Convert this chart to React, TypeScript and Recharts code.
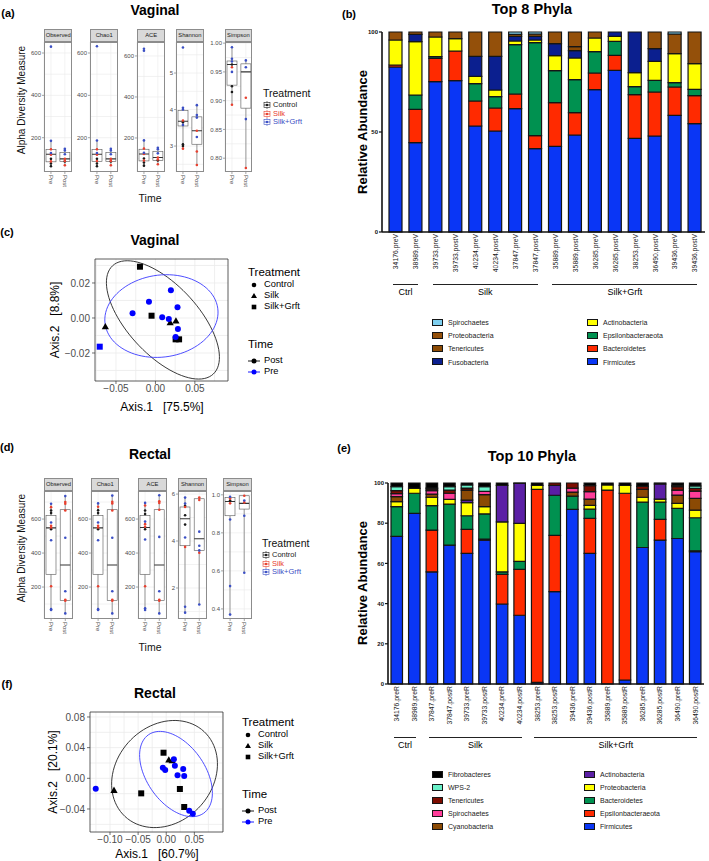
import React from "react";
import {
  BarChart,
  Bar,
  XAxis,
  YAxis,
  CartesianGrid,
  ComposedChart,
  Scatter,
  ScatterChart,
  ReferenceArea,
} from "recharts";

const FONT = "'Liberation Sans', Arial, Helvetica, sans-serif";
const GREY_TXT = "#4d4d4d";
const C_CTRL = "#1a1a1a";
const C_SILK = "#e8402f";
const C_GRFT = "#3b4fc4";

// ---------- (b) vaginal, top 8 phyla ----------
const vagSamples = [
  "34176.preV", "38989.preV", "39733.preV", "39733.postV", "40234.preV", "40234.postV",
  "37847.preV", "37847.postV", "35889.preV", "35889.postV", "36285.preV", "36285.postV",
  "38253.preV", "36490.postV", "39436.preV", "39436.postV",
];
const vagFirmicutes = [82.5, 44.7, 75.2, 75.7, 53, 50.5, 61.7, 41.7, 42.8, 48.5, 71.2, 80.8, 46.8, 48, 58.3, 54.2];
const vagBacteroidetes = [1, 16.6, 11.6, 14.8, 12.5, 11.5, 7.3, 6.5, 21.9, 11.2, 8.3, 7.5, 21.9, 22, 14.2, 14];
const vagEpsilon = [0, 7.2, 0.9, 0, 8.7, 5.7, 24.7, 46.5, 16, 16.5, 10.7, 7, 4, 5.8, 2.2, 3.1];
const vagActino = [12.5, 26.7, 9.8, 6.2, 3.6, 3.3, 1.8, 1.3, 7.5, 10.8, 6.8, 2.5, 7, 9.5, 14.5, 12.9];
const vagFuso = [0, 3.6, 0, 0, 10, 16.8, 2.3, 1.8, 6, 3.7, 0, 2.2, 20.3, 6.4, 0, 0];
const vagTenericutes = [0, 0, 0, 0, 0, 0, 0, 0, 0, 2, 0, 0, 0, 0, 0, 0];
const vagProteo = [4, 1.2, 2.5, 3.3, 12.2, 12.2, 1, 1.2, 5.8, 7.3, 3, 0, 0, 8.3, 9.8, 15.8];
const vagSpiro = [0, 0, 0, 0, 0, 0, 1.2, 1, 0, 0, 0, 0, 0, 0, 1, 0];

const vagPhyla = [
  { name: "Firmicutes", color: "#0a36f5", values: vagFirmicutes },
  { name: "Bacteroidetes", color: "#ff2a00", values: vagBacteroidetes },
  { name: "Epsilonbacteraeota", color: "#009150", values: vagEpsilon },
  { name: "Actinobacteria", color: "#ffff00", values: vagActino },
  { name: "Fusobacteria", color: "#0b1f8f", values: vagFuso },
  { name: "Tenericutes", color: "#8b4a04", values: vagTenericutes },
  { name: "Proteobacteria", color: "#94500a", values: vagProteo },
  { name: "Spirochaetes", color: "#7ecfef", values: vagSpiro },
];
const vagLegendLeft = ["Spirochaetes", "Proteobacteria", "Tenericutes", "Fusobacteria"];
const vagLegendRight = ["Actinobacteria", "Epsilonbacteraeota", "Bacteroidetes", "Firmicutes"];
const vagGroups = [
  { label: "Ctrl", from: 0, to: 1 },
  { label: "Silk", from: 2, to: 7 },
  { label: "Silk+Grft", from: 8, to: 15 },
];

// ---------- (e) rectal, top 10 phyla ----------
const recSamples = [
  "34176.preR", "38989.preR", "37847.preR", "37847.postR", "39733.preR", "39733.postR",
  "40234.preR", "40234.postR", "38253.preR", "38253.postR", "39436.preR", "39436.postR",
  "35889.preR", "35889.postR", "36285.preR", "36285.postR", "36490.preR", "36490.postR",
];
const recFirmicutes = [73.4, 84.9, 55.8, 69.1, 65, 71.6, 39.8, 34.2, 0.8, 46, 86.9, 65, 0, 2, 67.9, 71.6, 72.4, 65.8];
const recEpsilon = [0, 0, 20.8, 0, 11.9, 0.5, 14.7, 22.8, 96, 27.9, 0, 17.4, 96.5, 92.9, 0, 10.3, 0, 0.5];
const recBacteroidetes = [14.8, 10, 12.1, 20.4, 6.8, 12.5, 1.3, 4, 0, 20, 6.6, 4.6, 0, 0, 22.6, 8.6, 15, 16.4];
const recProteo = [2.5, 2.4, 4.2, 2.4, 6.5, 3.6, 24.9, 18.9, 2, 0, 0, 1.9, 2.5, 3.9, 2.4, 1.5, 2.5, 3.8];
const recActino = [0, 0, 0, 0, 1.3, 0, 18.1, 19.9, 0, 4.9, 0, 0, 0, 0, 0, 7.5, 0, 0];
const recCyano = [2.5, 0, 1.6, 0, 5, 6, 0, 0, 0, 0, 2, 3.1, 0, 0, 3.9, 0, 4.1, 5.9];
const recSpiro = [1.5, 0, 1.7, 3, 0, 1.6, 0, 0, 0, 0, 2, 3.7, 0, 0, 0, 0, 2.5, 3.6];
const recTenericutes = [1.5, 0, 0.8, 1.6, 1, 0, 0, 0, 0, 1.2, 2.5, 3, 0, 0, 1.5, 0, 1.7, 1.3];
const recWps2 = [2, 0, 0.5, 1.7, 1.5, 2.4, 0, 0, 0, 0, 0, 0, 0, 0, 0, 0, 0.6, 1.2];
const recFibro = [1.8, 2.7, 2.5, 1.8, 1, 1.8, 1.2, 0.2, 1.2, 0, 0, 1.3, 1, 1.2, 1.7, 0.5, 1.2, 1.5];

const recPhyla = [
  { name: "Firmicutes", color: "#0a36f5", values: recFirmicutes },
  { name: "Epsilonbacteraeota", color: "#ff2a00", values: recEpsilon },
  { name: "Bacteroidetes", color: "#009150", values: recBacteroidetes },
  { name: "Proteobacteria", color: "#ffff00", values: recProteo },
  { name: "Actinobacteria", color: "#5b1fa5", values: recActino },
  { name: "Cyanobacteria", color: "#8b4a04", values: recCyano },
  { name: "Spirochaetes", color: "#ff3d9a", values: recSpiro },
  { name: "Tenericutes", color: "#7d0c00", values: recTenericutes },
  { name: "WPS-2", color: "#69f0c8", values: recWps2 },
  { name: "Fibrobacteres", color: "#000000", values: recFibro },
];
const recLegendLeft = ["Fibrobacteres", "WPS-2", "Tenericutes", "Spirochaetes", "Cyanobacteria"];
const recLegendRight = ["Actinobacteria", "Proteobacteria", "Bacteroidetes", "Epsilonbacteraeota", "Firmicutes"];
const recGroups = [
  { label: "Ctrl", from: 0, to: 1 },
  { label: "Silk", from: 2, to: 7 },
  { label: "Silk+Grft", from: 8, to: 17 },
];

// ---------- (a) / (d) alpha diversity: box = [lo, q1, median, q3, hi] for Pre, Post ----------
const vagObserved = {
  box: [[62, 86, 122, 145, 185], [65, 88, 100, 130, 148]],
  control: [[100, 78, 65], [88]],
  silk: [[145, 120, 88], [100, 90, 70]],
  grft: [[630, 185, 128], [148, 140, 122]],
};
const vagChao1 = {
  box: [[62, 88, 122, 145, 185], [65, 88, 100, 130, 148]],
  control: [[100, 78, 65], [88]],
  silk: [[145, 120, 90], [100, 90, 70]],
  grft: [[632, 187, 128], [148, 140, 122]],
};
const vagAce = {
  box: [[62, 88, 122, 145, 188], [68, 90, 105, 135, 152]],
  control: [[100, 80, 65], [90]],
  silk: [[148, 122, 90], [105, 95, 72]],
  grft: [[635, 625, 188, 128], [152, 145, 125]],
};
const vagShannon = {
  box: [[2.93, 3.55, 3.68, 3.98, 4.05], [2.48, 3.05, 3.42, 3.8, 4.12]],
  control: [[3.65, 3.05, 3.0], []],
  silk: [[3.7, 2.93], [3.42, 2.85, 2.48]],
  grft: [[5.7, 4.05, 4.0, 3.58], [4.12, 3.85, 3.78, 3.25]],
};
const vagSimpson = {
  box: [[0.893, 0.927, 0.963, 0.969, 0.993], [0.783, 0.887, 0.95, 0.964, 0.97]],
  control: [[0.963, 0.925, 0.915], []],
  silk: [[0.958, 0.893], [0.905, 0.783]],
  grft: [[0.993, 0.973, 0.968, 0.95], [0.97, 0.958, 0.868]],
};

const recObserved = {
  box: [[65, 275, 548, 620, 690], [40, 120, 330, 655, 735]],
  control: [[650, 635, 540], []],
  silk: [[670, 560, 550, 205], [700, 690, 650, 125, 120]],
  grft: [[690, 580, 475, 70, 65], [735, 490, 175, 45]],
};
const recChao1 = {
  box: [[65, 275, 548, 620, 692], [40, 120, 330, 655, 738]],
  control: [[652, 635, 540], []],
  silk: [[672, 560, 550, 205], [702, 692, 650, 125, 120]],
  grft: [[692, 580, 475, 70, 65], [738, 490, 175, 45]],
};
const recAce = {
  box: [[65, 275, 550, 620, 695], [40, 120, 330, 655, 740]],
  control: [[650, 630, 540], []],
  silk: [[680, 570, 555, 205], [705, 695, 655, 125, 120]],
  grft: [[695, 585, 480, 75, 65], [740, 495, 175, 45]],
};
const recShannon = {
  box: [[0.95, 3.8, 4.95, 5.45, 5.85], [1.3, 3.6, 4.1, 5.8, 5.85]],
  control: [[5.5, 5.1, 4.7], []],
  silk: [[5.45, 3.75], [5.85, 5.75, 3.5]],
  grft: [[5.85, 5.6, 4.15, 1.2, 0.95], [4.4, 3.8, 3.6, 1.3]],
};
const recSimpson = {
  box: [[0.37, 0.89, 0.965, 0.985, 0.99], [0.59, 0.925, 0.955, 0.995, 1.0]],
  control: [[0.97], []],
  silk: [[0.98, 0.955], [0.995, 0.96]],
  grft: [[0.99, 0.87, 0.52, 0.37], [0.97, 0.89, 0.59]],
};

// ---------- (c) / (f) PCoA coordinates [Axis.1, Axis.2] ----------
const vagPostSquare = [[-0.0196, 0.0293], [-0.0049, 0.0013], [0.0256, -0.0122], [0.03, -0.0122]];
const vagPostTriangle = [[0.0187, -0.0027], [0.026, -0.0017], [-0.0635, -0.005]];
const vagPreCircle = [
  [0.0196, 0.0158], [-0.0082, 0.0093], [0.028, 0.0061], [-0.029, 0.0027], [0.0086, 0.0004],
  [0.017, -0.0006], [0.0285, -0.0063], [0.0256, -0.0109],
];
const vagPreSquare = [[-0.0706, -0.0164]];
// ellipse: centre x, centre y, half-axis 1 (dx, dy), half-axis 2 (dx, dy)
const vagEllipsePost = [0.0095, -0.0011, 0.0639, -0.0309, -0.0324, -0.0137];
const vagEllipsePre = [0.0076, 0.0011, 0.0714, 0.0045, 0.0072, -0.0232];

const recPostSquare = [[-0.0445, -0.0196], [-0.0048, 0.0334], [0.0243, -0.0139], [0.032, -0.0374]];
const recPostTriangle = [[-0.0929, -0.0156], [0.0046, 0.0239], [0.0106, 0.0229]];
const recPreCircle = [
  [-0.1254, -0.0136], [0.0136, 0.0248], [-0.006, 0.0138], [-0.0018, 0.0108], [0.0154, 0.0164],
  [0.0302, 0.0121], [0.0201, 0.0039], [0.032, 0.003], [0.0409, -0.0422], [0.0473, -0.0461],
];
const recEllipsePost = [-0.003, 0.0056, 0.0704, 0.0553, 0.0625, -0.0427];
const recEllipsePre = [0.0174, 0.0056, 0.049, -0.0512, -0.0423, -0.0217];

// ---------------------------------------------------------------------------

function Txt({ x, y, children, size = 10, weight = 400, color = "#000", rotate = 0, anchor = "middle" }: any) {
  const tx = anchor === "middle" ? "-50%" : anchor === "start" ? "0%" : "-100%";
  return (
    <div
      style={{
        position: "absolute",
        left: x,
        top: y,
        transform: `translate(${tx}, -50%) rotate(${rotate}deg)`,
        whiteSpace: "nowrap",
        fontFamily: FONT,
        fontSize: size,
        fontWeight: weight,
        color,
        lineHeight: 1,
      }}
    >
      {children}
    </div>
  );
}

const SampleTick = (props: any) => {
  const { x, y, payload } = props;
  return (
    <text
      x={x}
      y={y}
      transform={`rotate(-90, ${x}, ${y})`}
      textAnchor="end"
      dy="0.35em"
      fontSize={6.8}
      fill="#222"
      fontFamily={FONT}
    >
      {payload.value}
    </text>
  );
};

function StackedPhyla({ samples, phyla, left, top, mLeft, mRight, mTop, plotH, ticks, barSize, padLeft }: any) {
  const rows = samples.map((s: string, i: number) => {
    const r: any = { sample: s };
    phyla.forEach((p: any) => (r[p.name] = p.values[i]));
    return r;
  });
  return (
    <div style={{ position: "absolute", left, top }}>
      <BarChart
        width={369}
        height={mTop + plotH + 48}
        data={rows}
        margin={{ top: mTop, right: mRight, left: mLeft, bottom: 0 }}
        barCategoryGap={0}
      >
        <XAxis
          dataKey="sample"
          interval={0}
          height={48}
          tick={<SampleTick />}
          tickLine={false}
          tickSize={2}
          tickMargin={0}
          padding={{ left: padLeft, right: 0 }}
          axisLine={{ stroke: "#111", strokeWidth: 1.6 }}
        />
        <YAxis
          type="number"
          domain={[0, 100]}
          ticks={ticks}
          interval={0}
          width={30}
          tick={{ fontSize: 6, fontWeight: 700, fill: "#111", fontFamily: FONT }}
          tickSize={3}
          tickMargin={1}
          tickLine={{ stroke: "#111", strokeWidth: 1.2 }}
          axisLine={{ stroke: "#111", strokeWidth: 1.6 }}
        />
        {phyla.map((p: any) => (
          <Bar
            key={p.name}
            dataKey={p.name}
            stackId="a"
            fill={p.color}
            stroke="#151515"
            strokeWidth={1.2}
            barSize={barSize}
            isAnimationActive={false}
          />
        ))}
      </BarChart>
    </div>
  );
}

function GroupMarks({ groups, plotLeft, band, lineY, textY }: any) {
  return (
    <>
      {groups.map((g: any) => {
        const x1 = plotLeft + (g.from + 0.5) * band - 3;
        const x2 = plotLeft + (g.to + 0.5) * band + 2;
        return (
          <React.Fragment key={g.label}>
            <div
              style={{ position: "absolute", left: x1, top: lineY, width: x2 - x1, height: 0, borderTop: "1px solid #222" }}
            />
            <Txt x={(x1 + x2) / 2} y={textY} size={9}>
              {g.label}
            </Txt>
          </React.Fragment>
        );
      })}
    </>
  );
}

function PhylaLegend({ names, phyla, x, y0, step }: any) {
  const colorOf = (n: string) => phyla.find((p: any) => p.name === n).color;
  return (
    <>
      {names.map((n: string, i: number) => (
        <React.Fragment key={n}>
          <div
            style={{
              position: "absolute",
              left: x,
              top: y0 + i * step - 3.5,
              width: 11,
              height: 7,
              boxSizing: "border-box",
              border: "1.5px solid #151515",
              background: colorOf(n),
            }}
          />
          <Txt x={x + 16} y={y0 + i * step} size={7} anchor="start" color="#222">
            {n}
          </Txt>
        </React.Fragment>
      ))}
    </>
  );
}

// ---------- box plot facets ----------
const BoxShape = (p: any) => {
  const { x, y, width, height, payload } = p;
  if (!payload || height == null) return <g />;
  const span = payload.hi - payload.lo;
  const py = (v: number) => y + ((payload.hi - v) / span) * height;
  const cx = x + width / 2;
  return (
    <g>
      <line x1={cx} x2={cx} y1={py(payload.hi)} y2={py(payload.q3)} stroke="#555" strokeWidth={0.6} />
      <line x1={cx} x2={cx} y1={py(payload.q1)} y2={py(payload.lo)} stroke="#555" strokeWidth={0.6} />
      <rect
        x={x}
        y={py(payload.q3)}
        width={width}
        height={py(payload.q1) - py(payload.q3)}
        fill="#fff"
        stroke="#555"
        strokeWidth={0.6}
      />
      <line x1={x} x2={x + width} y1={py(payload.med)} y2={py(payload.med)} stroke="#333" strokeWidth={1.1} />
    </g>
  );
};

const Dot = (p: any) => <circle cx={p.cx} cy={p.cy} r={1.3} fill={p.fill} />;

const TimeTick = (p: any) => (
  <text
    x={p.x}
    y={p.y}
    transform={`rotate(90, ${p.x}, ${p.y})`}
    textAnchor="start"
    dy="0.35em"
    fontSize={6}
    fill={GREY_TXT}
    fontFamily={FONT}
  >
    {p.payload.value}
  </text>
);

function Facet({ left, top, w, h, label, data, domain, ticks, grid, fmt }: any) {
  const yW = 22;
  const mT = 5;
  const rows = ["Pre", "Post"].map((t, i) => {
    const [lo, q1, med, q3, hi] = data.box[i];
    return { time: t, lo, q1, med, q3, hi };
  });
  const pts = (arr: number[][]) =>
    arr.flatMap((vals, i) => vals.map((v) => ({ time: i === 0 ? "Pre" : "Post", v })));
  return (
    <>
      <div style={{ position: "absolute", left: left - yW, top: top - mT }}>
        <ComposedChart width={yW + w} height={mT + h + 20} data={rows} margin={{ top: mT, right: 0, bottom: 0, left: 0 }}>
          <CartesianGrid stroke="#e9e9e9" strokeWidth={0.6} horizontalValues={grid} />
          <XAxis
            dataKey="time"
            type="category"
            allowDuplicatedCategory={false}
            interval={0}
            height={20}
            tick={<TimeTick />}
            tickSize={2}
            tickMargin={1}
            axisLine={false}
            tickLine={{ stroke: "#666", strokeWidth: 0.6 }}
          />
          <YAxis
            type="number"
            domain={domain}
            ticks={ticks}
            interval={0}
            allowDataOverflow
            width={yW}
            tickFormatter={fmt}
            tick={{ fontSize: 6, fill: GREY_TXT, fontFamily: FONT }}
            tickSize={2}
            tickMargin={1}
            axisLine={false}
            tickLine={{ stroke: "#666", strokeWidth: 0.6 }}
          />
          <Bar dataKey={(d: any) => [d.lo, d.hi]} barSize={10} shape={BoxShape} isAnimationActive={false} />
          <Scatter data={pts(data.control)} dataKey="v" fill={C_CTRL} shape={Dot} isAnimationActive={false} />
          <Scatter data={pts(data.silk)} dataKey="v" fill={C_SILK} shape={Dot} isAnimationActive={false} />
          <Scatter data={pts(data.grft)} dataKey="v" fill={C_GRFT} shape={Dot} isAnimationActive={false} />
        </ComposedChart>
      </div>
      <div
        style={{
          position: "absolute",
          left,
          top,
          width: w,
          height: h,
          boxSizing: "border-box",
          border: "1px solid #8c8c8c",
          pointerEvents: "none",
        }}
      />
      <div
        style={{
          position: "absolute",
          left,
          top: top - 13,
          width: w,
          height: 13,
          boxSizing: "border-box",
          background: "#d9d9d9",
          border: "1px solid #8c8c8c",
          fontFamily: FONT,
          fontSize: 5.8,
          color: "#1a1a1a",
          textAlign: "center",
          lineHeight: "11px",
          overflow: "hidden",
          whiteSpace: "nowrap",
        }}
      >
        {label}
      </div>
    </>
  );
}

function BoxKey({ x, y, color }: any) {
  return (
    <svg style={{ position: "absolute", left: x - 4, top: y - 4 }} width={8} height={8}>
      <line x1={4} x2={4} y1={0} y2={8} stroke={color} strokeWidth={0.6} />
      <rect x={1} y={1.5} width={6} height={5} fill="#fff" stroke={color} strokeWidth={0.6} />
      <line x1={1} x2={7} y1={4} y2={4} stroke={color} strokeWidth={0.8} />
      <circle cx={4} cy={4} r={1.2} fill={color} />
    </svg>
  );
}

function TreatmentBoxLegend({ x, y }: any) {
  const items = [
    { label: "Control", color: C_CTRL },
    { label: "Silk", color: C_SILK },
    { label: "Silk+Grft", color: C_GRFT },
  ];
  return (
    <>
      <Txt x={x} y={y} size={10.5} anchor="start" color="#111">
        Treatment
      </Txt>
      {items.map((it, i) => (
        <React.Fragment key={it.label}>
          <BoxKey x={x + 4} y={y + 12 + i * 8.7} color={it.color} />
          <Txt x={x + 10} y={y + 12 + i * 8.7} size={7.5} anchor="start" color={it.color}>
            {it.label}
          </Txt>
        </React.Fragment>
      ))}
    </>
  );
}

// ---------- PCoA ----------
const ellipsePts = (e: number[]) => {
  const [cx, cy, ax, ay, bx, by] = e;
  return Array.from({ length: 91 }, (_, i) => {
    const t = (i / 90) * 2 * Math.PI;
    return { x: cx + ax * Math.cos(t) + bx * Math.sin(t), y: cy + ay * Math.cos(t) + by * Math.sin(t) };
  });
};

const NoShape = () => <g />;
const CircleShape = (p: any) => <circle cx={p.cx} cy={p.cy} r={3} fill={p.fill} />;
const TriangleShape = (p: any) => (
  <polygon
    points={`${p.cx},${p.cy - 3.8} ${p.cx - 3.6},${p.cy + 2.6} ${p.cx + 3.6},${p.cy + 2.6}`}
    fill={p.fill}
  />
);
const SquareShape = (p: any) => <rect x={p.cx - 3} y={p.cy - 3} width={6} height={6} fill={p.fill} />;
const shapeOf: any = { circle: CircleShape, triangle: TriangleShape, square: SquareShape };

const fmtSigned = (d: number) => (v: number) => (v < 0 ? "\u2212" : "") + Math.abs(v).toFixed(d);

function Pcoa({ left, top, w, h, xDomain, yDomain, xTicks, yTicks, xGrid, yGrid, series, ellipses }: any) {
  const yW = 42;
  return (
    <div style={{ position: "absolute", left: left - yW, top: top - 4 }}>
      <ScatterChart width={yW + w + 4} height={h + 4 + 22} margin={{ top: 4, right: 4, bottom: 0, left: 0 }}>
        <CartesianGrid stroke="#ebebeb" strokeWidth={0.8} horizontalValues={yGrid} verticalValues={xGrid} />
        <XAxis
          type="number"
          dataKey="x"
          domain={xDomain}
          ticks={xTicks}
          interval={0}
          allowDataOverflow
          tickFormatter={fmtSigned(2)}
          height={22}
          tick={{ fontSize: 10, fill: GREY_TXT, fontFamily: FONT }}
          tickSize={3}
          tickMargin={1}
          axisLine={false}
          tickLine={{ stroke: "#333", strokeWidth: 0.7 }}
        />
        <YAxis
          type="number"
          dataKey="y"
          domain={yDomain}
          ticks={yTicks}
          interval={0}
          allowDataOverflow
          tickFormatter={fmtSigned(2)}
          width={yW}
          tick={{ fontSize: 10, fill: GREY_TXT, fontFamily: FONT }}
          tickSize={3}
          tickMargin={2}
          axisLine={false}
          tickLine={{ stroke: "#333", strokeWidth: 0.7 }}
        />
        <ReferenceArea
          x1={xDomain[0]}
          x2={xDomain[1]}
          y1={yDomain[0]}
          y2={yDomain[1]}
          fill="none"
          fillOpacity={0}
          stroke="#333"
          strokeWidth={0.8}
          ifOverflow="visible"
        />
        {ellipses.map((e: any, i: number) => (
          <Scatter
            key={"e" + i}
            data={ellipsePts(e.p)}
            line={{ stroke: e.color, strokeWidth: 0.9 }}
            lineType="joint"
            shape={NoShape}
            isAnimationActive={false}
          />
        ))}
        {series.map((s: any, i: number) => (
          <Scatter
            key={"s" + i}
            data={s.pts.map(([x, y]: number[]) => ({ x, y }))}
            fill={s.color}
            shape={shapeOf[s.shape]}
            isAnimationActive={false}
          />
        ))}
      </ScatterChart>
    </div>
  );
}

function PcoaLegend({ x, y, timeY }: any) {
  const items = [
    { label: "Control", shape: "circle" },
    { label: "Silk", shape: "triangle" },
    { label: "Silk+Grft", shape: "square" },
  ];
  return (
    <>
      <Txt x={x} y={y} size={11.5} anchor="start">
        Treatment
      </Txt>
      {items.map((it, i) => (
        <React.Fragment key={it.label}>
          <svg style={{ position: "absolute", left: x + 1, top: y + 12 + i * 11 - 5 }} width={10} height={10}>
            {it.shape === "circle" && <circle cx={5} cy={5} r={2.3} fill="#000" />}
            {it.shape === "triangle" && <polygon points="5,2 2,7 8,7" fill="#000" />}
            {it.shape === "square" && <rect x={2.7} y={2.7} width={4.6} height={4.6} fill="#000" />}
          </svg>
          <Txt x={x + 16} y={y + 12 + i * 11} size={9.3} anchor="start">
            {it.label}
          </Txt>
        </React.Fragment>
      ))}
      <Txt x={x} y={timeY} size={11.5} anchor="start">
        Time
      </Txt>
      {[
        { label: "Post", color: "#000" },
        { label: "Pre", color: "#0000ff" },
      ].map((it, i) => (
        <React.Fragment key={it.label}>
          <svg style={{ position: "absolute", left: x, top: timeY + 16 + i * 10.5 - 5 }} width={12} height={10}>
            <line x1={0} x2={12} y1={5} y2={5} stroke={it.color} strokeWidth={0.9} />
            <circle cx={6} cy={5} r={2.5} fill={it.color} />
          </svg>
          <Txt x={x + 16} y={timeY + 16 + i * 10.5} size={9.3} anchor="start">
            {it.label}
          </Txt>
        </React.Fragment>
      ))}
    </>
  );
}

const vagFacets = [
  { label: "Observed", left: 44.3, data: vagObserved, domain: [38, 652], ticks: [200, 400, 600], grid: [100, 200, 300, 400, 500, 600] },
  { label: "Chao1", left: 90.3, data: vagChao1, domain: [38, 652], ticks: [200, 400, 600], grid: [100, 200, 300, 400, 500, 600] },
  { label: "ACE", left: 137.3, data: vagAce, domain: [34, 668], ticks: [200, 400, 600], grid: [100, 200, 300, 400, 500, 600] },
  { label: "Shannon", left: 176, data: vagShannon, domain: [2.29, 5.85], ticks: [3, 4, 5], grid: [2.5, 3, 3.5, 4, 4.5, 5, 5.5] },
  {
    label: "Simpson", left: 224.5, data: vagSimpson, domain: [0.776, 1.002], ticks: [0.8, 0.85, 0.9, 0.95, 1.0],
    grid: [0.8, 0.825, 0.85, 0.875, 0.9, 0.925, 0.95, 0.975, 1.0], fmt: (v: number) => v.toFixed(2),
  },
];
const recFacets = [
  { label: "Observed", left: 44.3, data: recObserved, domain: [12, 765], ticks: [200, 400, 600], grid: [100, 200, 300, 400, 500, 600, 700] },
  { label: "Chao1", left: 91, data: recChao1, domain: [12, 765], ticks: [200, 400, 600], grid: [100, 200, 300, 400, 500, 600, 700] },
  { label: "ACE", left: 138.3, data: recAce, domain: [12, 765], ticks: [200, 400, 600], grid: [100, 200, 300, 400, 500, 600, 700] },
  { label: "Shannon", left: 178.3, data: recShannon, domain: [0.68, 6.13], ticks: [2, 4, 6], grid: [1, 2, 3, 4, 5, 6] },
  {
    label: "Simpson", left: 223.3, data: recSimpson, domain: [0.347, 1.02], ticks: [0.4, 0.6, 0.8, 1.0],
    grid: [0.4, 0.5, 0.6, 0.7, 0.8, 0.9, 1.0], fmt: (v: number) => v.toFixed(1),
  },
];

export default function App() {
  return (
    <div
      style={{
        position: "absolute",
        left: 0,
        top: 0,
        width: 709,
        height: 861,
        background: "#fff",
        fontFamily: FONT,
        overflow: "hidden",
      }}
    >
      {/* (a) */}
      <Txt x={8} y={13} size={11} weight={700}>(a)</Txt>
      <Txt x={155} y={10} size={14} weight={700}>Vaginal</Txt>
      {vagFacets.map((f) => (
        <Facet key={f.label} {...f} top={41.7} w={27.8} h={130} />
      ))}
      <Txt x={22} y={100} size={10} rotate={-90} color="#111">Alpha Diversity Measure</Txt>
      <Txt x={150} y={198} size={10.5} color="#111">Time</Txt>
      <TreatmentBoxLegend x={263} y={93} />

      {/* (c) */}
      <Txt x={7} y={232} size={11} weight={700}>(c)</Txt>
      <Txt x={155} y={240} size={14} weight={700}>Vaginal</Txt>
      <Pcoa
        left={95}
        top={259}
        w={133}
        h={122}
        xDomain={[-0.0766, 0.092]}
        yDomain={[-0.036, 0.0337]}
        xTicks={[-0.05, 0, 0.05]}
        yTicks={[-0.02, 0, 0.02]}
        xGrid={[-0.075, -0.05, -0.025, 0, 0.025, 0.05, 0.075]}
        yGrid={[-0.03, -0.02, -0.01, 0, 0.01, 0.02, 0.03]}
        ellipses={[
          { p: vagEllipsePost, color: "#222" },
          { p: vagEllipsePre, color: "#3b3bff" },
        ]}
        series={[
          { pts: vagPostSquare, shape: "square", color: "#000" },
          { pts: vagPostTriangle, shape: "triangle", color: "#000" },
          { pts: vagPreCircle, shape: "circle", color: "#0000ff" },
          { pts: vagPreSquare, shape: "square", color: "#0000ff" },
        ]}
      />
      <Txt x={55} y={320} size={12} rotate={-90}>Axis.2&nbsp;&nbsp;&nbsp;[8.8%]</Txt>
      <Txt x={162} y={407} size={12}>Axis.1&nbsp;&nbsp;&nbsp;[75.5%]</Txt>
      <PcoaLegend x={248} y={273} timeY={345} />

      {/* (d) */}
      <Txt x={7} y={447} size={11} weight={700}>(d)</Txt>
      <Txt x={150} y={454} size={14} weight={700}>Rectal</Txt>
      {recFacets.map((f) => (
        <Facet key={f.label} {...f} top={491} w={28.4} h={128} />
      ))}
      <Txt x={22} y={548} size={10} rotate={-90} color="#111">Alpha Diversity Measure</Txt>
      <Txt x={150} y={647} size={10.5} color="#111">Time</Txt>
      <TreatmentBoxLegend x={262} y={543} />

      {/* (f) */}
      <Txt x={7} y={684} size={11} weight={700}>(f)</Txt>
      <Txt x={155} y={693} size={14} weight={700}>Rectal</Txt>
      <Pcoa
        left={90}
        top={712}
        w={133}
        h={120}
        xDomain={[-0.1356, 0.101]}
        yDomain={[-0.07, 0.0865]}
        xTicks={[-0.1, -0.05, 0, 0.05]}
        yTicks={[-0.04, 0, 0.04, 0.08]}
        xGrid={[-0.125, -0.1, -0.075, -0.05, -0.025, 0, 0.025, 0.05, 0.075, 0.1]}
        yGrid={[-0.06, -0.04, -0.02, 0, 0.02, 0.04, 0.06, 0.08]}
        ellipses={[
          { p: recEllipsePost, color: "#222" },
          { p: recEllipsePre, color: "#3b3bff" },
        ]}
        series={[
          { pts: recPostSquare, shape: "square", color: "#000" },
          { pts: recPostTriangle, shape: "triangle", color: "#000" },
          { pts: recPreCircle, shape: "circle", color: "#0000ff" },
        ]}
      />
      <Txt x={53} y={772} size={12} rotate={-90}>Axis.2&nbsp;&nbsp;&nbsp;[20.1%]</Txt>
      <Txt x={157} y={854} size={12}>Axis.1&nbsp;&nbsp;&nbsp;[60.7%]</Txt>
      <PcoaLegend x={242} y={723} timeY={795} />

      {/* (b) */}
      <Txt x={349} y={14} size={11} weight={700}>(b)</Txt>
      <Txt x={532} y={9} size={14.5} weight={700}>Top 8 Phyla</Txt>
      <Txt x={362} y={132} size={13} weight={700} rotate={-90}>Relative Abundance</Txt>
      <StackedPhyla
        samples={vagSamples}
        phyla={vagPhyla}
        left={340}
        top={26}
        mLeft={12}
        mRight={4}
        mTop={6}
        plotH={200}
        ticks={[0, 50, 100]}
        barSize={13}
        padLeft={4}
      />
      <GroupMarks groups={vagGroups} plotLeft={386} band={19.94} lineY={284} textY={292} />
      <PhylaLegend names={vagLegendLeft} phyla={vagPhyla} x={432} y0={322} step={13.2} />
      <PhylaLegend names={vagLegendRight} phyla={vagPhyla} x={587} y0={322} step={13.2} />

      {/* (e) */}
      <Txt x={344} y={448} size={11} weight={700}>(e)</Txt>
      <Txt x={532} y={456} size={14.5} weight={700}>Top 10 Phyla</Txt>
      <Txt x={362} y={583} size={13} weight={700} rotate={-90}>Relative Abundance</Txt>
      <StackedPhyla
        samples={recSamples}
        phyla={recPhyla}
        left={340}
        top={476}
        mLeft={18}
        mRight={5}
        mTop={7}
        plotH={201}
        ticks={[0, 20, 40, 60, 80, 100]}
        barSize={11.5}
        padLeft={0}
      />
      <GroupMarks groups={recGroups} plotLeft={388} band={17.56} lineY={737} textY={745} />
      <PhylaLegend names={recLegendLeft} phyla={recPhyla} x={432} y0={774} step={13} />
      <PhylaLegend names={recLegendRight} phyla={recPhyla} x={584} y0={774} step={13} />
    </div>
  );
}
